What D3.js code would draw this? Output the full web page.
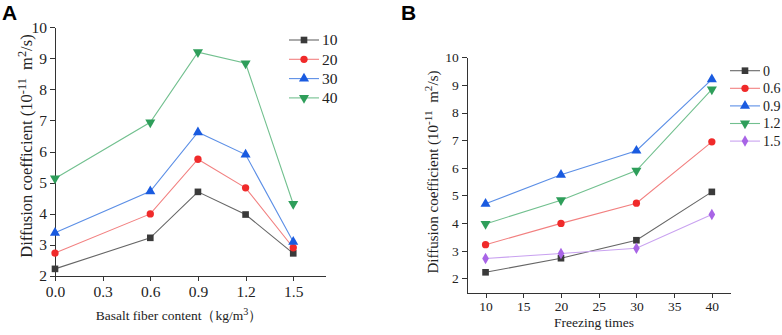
<!DOCTYPE html>
<html lang="en">
<head>
<meta charset="UTF-8">
<title>Diffusion coefficient</title>
<script src="https://d3js.org/d3.v7.min.js"></script>
<style>
  body { margin: 0; background: #fff; }
  svg { display: block; }
  .axis path, .axis line { stroke: #333; shape-rendering: crispEdges; }
  .axis text { font-family: "Liberation Serif", "DejaVu Serif", serif; fill: #222; }
  .lbl { font-family: "Liberation Serif", "DejaVu Serif", serif; fill: #222; }
  .panel { font-family: "Liberation Sans", Arial, sans-serif; font-weight: bold; font-size: 21px; fill: #000; }
</style>
</head>
<body>
<svg width="782" height="335"></svg>
<script>
// fibre content (kg/m3) and freezing times
const fiber = [0, 0.6, 0.9, 1.2, 1.5];
const freezing = [10, 20, 30, 40];

// diffusion coefficient, one row per freezing count, columns follow fiber[]
const d10 = [2.22, 3.22, 4.70, 3.97, 2.72];
const d20 = [2.73, 3.99, 5.75, 4.83, 2.90];
const d30 = [3.38, 4.72, 6.62, 5.90, 3.09];
const d40 = [5.13, 6.94, 9.20, 8.84, 4.31];

const xTicksA = [0, 0.3, 0.6, 0.9, 1.2, 1.5];
const xTicksB = [10, 15, 20, 25, 30, 35, 40];
const yTicks = [2, 3, 4, 5, 6, 7, 8, 9, 10];

const rows = [d10, d20, d30, d40];

const styles = [
  { mark: "square",   fill: "#3a3a3a", line: "#666666" },
  { mark: "circle",   fill: "#f02a2a", line: "#f28080" },
  { mark: "triangle", fill: "#1a5be0", line: "#5c8fe6" },
  { mark: "tridown",  fill: "#2e9e5a", line: "#72c08f" },
  { mark: "diamond",  fill: "#a864e6", line: "#c9a2f0" }
];

const symType = {
  square: d3.symbolSquare, circle: d3.symbolCircle, triangle: d3.symbolTriangle,
  tridown: d3.symbolTriangle, diamond: d3.symbolDiamond
};
const symSize = { square: 44, circle: 42, triangle: 44, tridown: 44, diamond: 38 };

const svg = d3.select("svg");

function drawMark(g, st, x, y) {
  g.append("path")
    .attr("d", d3.symbol().type(symType[st.mark]).size(symSize[st.mark])())
    .attr("transform", "translate(" + x + "," + y + ")" + (st.mark === "tridown" ? " rotate(180)" : ""))
    .attr("fill", st.fill);
}

function supLabel(t, parts, fs) {
  // parts: [text, superscript, text, superscript, ...]
  parts.forEach((p, i) => {
    if (i % 2 === 0) {
      t.append("tspan").attr("dy", i === 0 ? 0 : fs * 0.38).text(p);
    } else {
      t.append("tspan").attr("dy", -fs * 0.38).style("font-size", (fs * 0.75) + "px").text(p);
    }
  });
}

function panel(cfg) {
  const x = d3.scaleLinear().domain(cfg.xDomain).range(cfg.xRange);
  const y = d3.scaleLinear().domain(cfg.yDomain).range(cfg.yRange);
  const fs = cfg.fs;

  // minor ticks first
  const gx = svg.append("g").attr("class", "axis")
    .attr("transform", "translate(0," + cfg.yRange[0] + ")");
  gx.call(d3.axisBottom(x).tickValues(cfg.xMinor).tickSize(3).tickFormat(""));
  gx.call(d3.axisBottom(x).tickValues(cfg.xTicks).tickSize(5).tickSizeOuter(0)
      .tickPadding(cfg.xPad).tickFormat(cfg.xFormat))
    .selectAll("text").style("font-size", fs + "px");

  const gy = svg.append("g").attr("class", "axis")
    .attr("transform", "translate(" + cfg.xRange[0] + ",0)");
  gy.call(d3.axisLeft(y).tickValues(cfg.yMinor).tickSize(3).tickFormat(""));
  gy.call(d3.axisLeft(y).tickValues(yTicks).tickSize(5).tickSizeOuter(0)
      .tickPadding(3).tickFormat(d3.format("d")))
    .selectAll("text").style("font-size", fs + "px");

  // series
  const line = d3.line().x(d => x(d[0])).y(d => y(d[1]));
  cfg.series.forEach((s, i) => {
    const st = styles[cfg.styleIdx[i]];
    svg.append("path").datum(s)
      .attr("d", line).attr("fill", "none")
      .attr("stroke", st.line).attr("stroke-width", 1.1);
  });
  cfg.series.forEach((s, i) => {
    const st = styles[cfg.styleIdx[i]];
    const g = svg.append("g");
    s.forEach(p => drawMark(g, st, x(p[0]), y(p[1])));
  });

  // legend
  cfg.legend.forEach((name, i) => {
    const st = styles[cfg.styleIdx[i]];
    const ly = cfg.legY + i * cfg.legStep;
    svg.append("line")
      .attr("x1", cfg.legX).attr("x2", cfg.legX + 30)
      .attr("y1", ly).attr("y2", ly)
      .attr("stroke", st.line).attr("stroke-width", 1.1);
    drawMark(svg, st, cfg.legX + 15, ly);
    svg.append("text").attr("class", "lbl")
      .attr("x", cfg.legX + 33).attr("y", ly + cfg.legFs * 0.35)
      .style("font-size", cfg.legFs + "px").text(name);
  });

  // y label
  const yl = svg.append("text").attr("class", "lbl")
    .attr("transform", "translate(" + cfg.yLab[0] + "," + cfg.yLab[1] + ") rotate(-90)")
    .attr("text-anchor", "middle").style("font-size", cfg.yFs + "px");
  supLabel(yl, ["Diffusion coefficient (10", "-11", "\u00a0\u00a0m", "2", "/s)"], cfg.yFs);

  // x label
  const xl = svg.append("text").attr("class", "lbl")
    .attr("x", cfg.xLab[0]).attr("y", cfg.xLab[1])
    .attr("text-anchor", "middle").style("font-size", cfg.xFs + "px");
  supLabel(xl, cfg.xLabel, cfg.xFs);

  svg.append("text").attr("class", "panel")
    .attr("x", cfg.tag[0]).attr("y", cfg.tag[1]).text(cfg.tagText);
}

// Panel A: x = fibre content, one line per freezing count
panel({
  xDomain: [0, 1.7], xRange: [55, 325],
  yDomain: [2, 10], yRange: [275.7, 27.3],
  xTicks: xTicksA, xMinor: d3.range(0.15, 1.7, 0.3),
  yMinor: d3.range(2.5, 10, 1),
  xFormat: d3.format(".1f"), xPad: 5, fs: 15.5,
  series: rows.map(r => fiber.map((f, j) => [f, r[j]])),
  styleIdx: [0, 1, 2, 3],
  legend: freezing.map(String), legX: 289, legY: 40, legStep: 19.3, legFs: 15.5,
  yLab: [32, 146], yFs: 16.5,
  xLab: [179, 320], xFs: 13.5,
  xLabel: ["Basalt fiber content\uff08kg/m", "3", "\uff09"],
  tag: [2, 20], tagText: "A"
});

// Panel B: x = freezing times, one line per fibre content
panel({
  xDomain: [7.5, 42.5], xRange: [466.7, 730.7],
  yDomain: [1.46, 10], yRange: [293.3, 57.3],
  xTicks: xTicksB, xMinor: d3.range(12.5, 43, 5),
  yMinor: d3.range(2.5, 10, 1),
  xFormat: d3.format("d"), xPad: 3, fs: 13.5,
  series: fiber.map((f, j) => freezing.map((n, i) => [n, rows[i][j]])),
  styleIdx: [0, 1, 2, 3, 4],
  legend: fiber.map(f => f === 0 ? "0" : String(f)), legX: 730, legY: 70.7, legStep: 17.6, legFs: 14,
  yLab: [438, 172], yFs: 15,
  xLab: [594, 327], xFs: 13.5,
  xLabel: ["Freezing times"],
  tag: [401, 20], tagText: "B"
});
</script>
</body>
</html>
